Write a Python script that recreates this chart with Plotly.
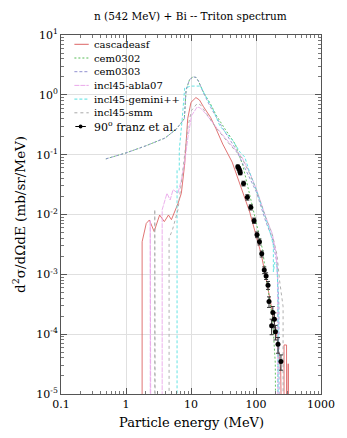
import plotly.graph_objects as go

ZERO = 1e-9

# cascadeasf
casc_E = [1.77, 1.77, 2.05, 2.29, 2.71, 3.29, 3.89, 4.5, 5.0, 5.66, 6.33, 7.1, 8.0, 8.9, 10, 11.9, 13.5, 15.6, 20, 24.3, 30.8, 43, 51, 60, 80, 100, 120, 150, 180, 210, 240, 250, 270, 270, 295, 295, 313, 313, 313]
casc_y = [ZERO, 0.0035, 0.0071, 0.0081, 0.0052, 0.0098, 0.0076, 0.0098, 0.0082, 0.0111, 0.0154, 0.0226, 0.07, 0.4, 0.75, 0.9, 0.82, 0.63, 0.42, 0.27, 0.15, 0.075, 0.045, 0.027, 0.011, 0.0045, 0.0022, 6.5e-4, 2.2e-4, 9e-5, 2.5e-5, ZERO, ZERO, 6.6e-5, 6.6e-5, ZERO, ZERO, 3.2e-5, ZERO]

# cem0302
cem02_E = [0.49, 1, 2, 4, 6, 7.9, 8.4, 9.5, 10.8, 12, 13, 15.6, 20, 24.3, 34, 48, 63, 80, 100, 127, 143, 160, 180, 198, 211]
cem02_y = [0.085, 0.107, 0.14, 0.19, 0.27, 0.4, 1.2, 1.8, 2.0, 1.95, 1.7, 1.1, 0.7, 0.46, 0.26, 0.15, 0.065, 0.021, 0.0075, 0.0025, 9e-4, 4e-4, 1.8e-4, 3.3e-5, ZERO]

# cem0303
cem03_E = [0.49, 1, 2, 4, 6, 7.9, 8.4, 9.5, 10.8, 12, 13, 15.6, 20, 24.3, 34, 48, 67, 80, 101, 142, 178, 211, 225, 230]
cem03_y = [0.085, 0.107, 0.14, 0.19, 0.27, 0.4, 1.2, 1.8, 2.0, 1.95, 1.7, 1.07, 0.62, 0.425, 0.23, 0.129, 0.062, 0.042, 0.024, 0.0075, 0.004, 0.0015, 0.0003, ZERO]

# incl45-abla07
abla_E = [2.36, 2.36, 2.45, 3.6, 3.6, 4.27, 4.78, 5.3, 6.3, 7.1, 7.95, 9, 10.2, 12.5, 14, 17, 24.3, 39, 60.7, 80, 101, 142, 178, 205, 215, 216]
abla_y = [ZERO, 0.008, ZERO, ZERO, 0.012, 0.0226, 0.0175, 0.026, 0.0226, 0.038, 0.072, 0.2, 0.45, 0.63, 0.6, 0.48, 0.29, 0.157, 0.091, 0.05, 0.027, 0.009, 0.0048, 0.0022, 0.0008, ZERO]

# incl45-gemini++
gem_E = [6.1, 6.1, 6.6, 6.6, 7.3, 8, 10, 14, 16, 22, 27.9, 43.3, 56.8, 67.3, 80, 101, 142, 170, 185, 185, 195, 210, 218, 220]
gem_y = [ZERO, 0.055, 0.055, 0.12, 0.38, 1.3, 1.4, 1.4, 1.05, 0.56, 0.3, 0.176, 0.11, 0.091, 0.05, 0.026, 0.0085, 0.0045, 0.003, 0.0011, 0.0016, 0.0014, 0.0005, ZERO]

# incl45-smm
smm_E = [2.77, 2.77, 2.85, 4.6, 4.6, 5.2, 6.3, 7, 8, 9, 10.2, 12.5, 14, 17, 24.3, 39, 60.7, 80, 101, 142, 178, 211, 230, 261, 261]
smm_y = [ZERO, 0.0122, ZERO, ZERO, 0.004, 0.0056, 0.012, 0.03, 0.1, 0.3, 0.55, 0.72, 0.68, 0.5, 0.28, 0.15, 0.088, 0.048, 0.026, 0.0088, 0.0046, 0.0021, 0.0008, 2.9e-4, ZERO]

# 90 deg franz et al.
exp_E = [52.5, 54.3, 56.2, 57.3, 64.3, 73.6, 83.2, 93.4, 103.5, 113, 122.5, 134, 143, 153, 158.5, 174, 181.5, 192, 199, 218, 242]
exp_y = [0.063, 0.059, 0.054, 0.050, 0.033, 0.0194, 0.0132, 0.0079, 0.0046, 0.0035, 0.0022, 0.00118, 0.00094, 0.00066, 0.00035, 0.000138, 0.00023, 0.000177, 0.00011, 6.8e-5, 3.5e-5]
exp_err = [0.004, 0.004, 0.004, 0.004, 0.003, 0.002, 0.0013, 0.0008, 0.0005, 0.0004, 0.00025, 0.00015, 0.00012, 0.0001, 0.00007, 0.00004, 0.00006, 0.00005, 0.00003, 0.00002, 0.00001]

x_tickvals = [0.1, 1, 10, 100, 1000]
x_ticktext = ["0.1", "1", "10", "100", "1000"]
y_tickvals = [1e-5, 1e-4, 1e-3, 1e-2, 1e-1, 1, 10]
y_ticktext = ["10<sup>-5</sup>", "10<sup>-4</sup>", "10<sup>-3</sup>", "10<sup>-2</sup>",
              "10<sup>-1</sup>", "10<sup>0</sup>", "10<sup>1</sup>"]

series = [
    ("cascadeasf", casc_E, casc_y, "#dd6464", "solid"),
    ("cem0302", cem02_E, cem02_y, "#55bb55", "2px,2px"),
    ("cem0303", cem03_E, cem03_y, "#9090d0", "3px,2px"),
    ("incl45-abla07", abla_E, abla_y, "#eaa8ea", "5px,1px"),
    ("incl45-gemini++", gem_E, gem_y, "#55e0e0", "3px,2px"),
    ("incl45-smm", smm_E, smm_y, "#a8a8a8", "3px,3px"),
]

FONT = "DejaVu Serif"
fig = go.Figure()
for name, xs, ys, col, dash in series:
    fig.add_trace(go.Scatter(x=xs, y=ys, mode="lines", name=name,
                             line=dict(color=col, width=0.9, dash=dash),
                             showlegend=False))

fig.add_trace(go.Scatter(x=exp_E, y=exp_y, mode="markers", name="90° franz et al.",
                         marker=dict(color="black", size=5),
                         error_y=dict(type="data", array=exp_err, color="#333", thickness=1, width=2),
                         showlegend=False))

def px2x(px):
    return (px - 61) / 272.0

def py2y(py):
    return (394 - py) / 359.0

shapes = []
annotations = []
labels = [s[0] for s in series] + ["90<sup>o</sup> franz et al."]
for i, lab in enumerate(labels):
    yy = 44.3 + 13.7 * i
    if i < len(series):
        col, dash = series[i][3], series[i][4]
        shapes.append(dict(type="line", xref="paper", yref="paper",
                           x0=px2x(75), x1=px2x(90), y0=py2y(yy), y1=py2y(yy),
                           line=dict(color=col, width=1, dash=dash)))
    else:
        shapes.append(dict(type="line", xref="paper", yref="paper",
                           x0=px2x(76), x1=px2x(87), y0=py2y(yy), y1=py2y(yy),
                           line=dict(color="black", width=1)))
        shapes.append(dict(type="circle", xref="paper", yref="paper",
                           x0=px2x(79.5), x1=px2x(83.5), y0=py2y(yy + 2), y1=py2y(yy - 2),
                           fillcolor="black", line=dict(color="black", width=0)))
    annotations.append(dict(text=lab, xref="paper", yref="paper", x=px2x(93), y=py2y(yy),
                            xanchor="left", yanchor="middle", showarrow=False,
                            font=dict(family=FONT, size=11 if i == len(series) else 10, color="black")))

annotations.append(dict(text="n (542 MeV) + Bi -- Triton spectrum", xref="paper", yref="paper",
                        x=px2x(196), y=py2y(16), xanchor="center", yanchor="middle", showarrow=False,
                        font=dict(family=FONT, size=10.5, color="black")))
annotations.append(dict(text="Particle energy (MeV)", xref="paper", yref="paper",
                        x=px2x(197), y=py2y(422), xanchor="center", yanchor="middle", showarrow=False,
                        font=dict(family=FONT, size=13, color="black")))
annotations.append(dict(text="d<sup>2</sup>σ/dΩdE (mb/sr/MeV)", xref="paper", yref="paper",
                        x=px2x(17), y=py2y(214), xanchor="center", yanchor="middle", showarrow=False,
                        textangle=-90, font=dict(family=FONT, size=13.5, color="black")))

x_minor = [m * 10.0 ** d for d in range(-1, 3) for m in range(2, 10)]
y_minor = [m * 10.0 ** d for d in range(-5, 1) for m in range(2, 10)]

axis_common = dict(type="log", showline=True, linecolor="#555", linewidth=1, mirror="ticks",
                   ticks="inside", ticklen=6, tickcolor="#555",
                   showgrid=True, gridcolor="#e0e0e0", gridwidth=1, zeroline=False,
                   tickfont=dict(family=FONT, size=11, color="black"))

fig.update_layout(
    width=347, height=438,
    margin=dict(l=61, r=14, t=35, b=44),
    paper_bgcolor="white", plot_bgcolor="white",
    showlegend=False,
    font=dict(family=FONT, size=11, color="black"),
    xaxis=dict(range=[-1, 3], tickvals=x_tickvals, ticktext=x_ticktext,
               minor=dict(tickmode="array", tickvals=x_minor, ticks="inside", ticklen=3,
                          tickcolor="#777", showgrid=False),
               **axis_common),
    yaxis=dict(range=[-5, 1], tickvals=y_tickvals, ticktext=y_ticktext,
               minor=dict(tickmode="array", tickvals=y_minor, ticks="inside", ticklen=3,
                          tickcolor="#777", showgrid=False),
               **axis_common),
    shapes=shapes, annotations=annotations,
)

fig.write_html("out.html")
